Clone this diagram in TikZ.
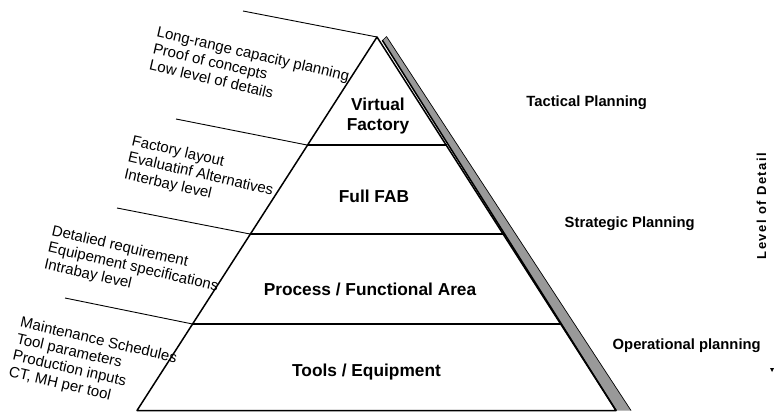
\documentclass[tikz,border=0pt]{standalone}
\usepackage{fontspec}
\setmainfont{Liberation Sans}
\begin{document}
\begin{tikzpicture}[x=1pt,y=-1pt,
  edge/.style={line width=1.5pt,line cap=round,line join=round},
  leader/.style={line width=0.9pt},
  layerlbl/.style={font=\fontsize{17.3}{20.6}\selectfont\bfseries,align=center,inner sep=0pt},
  planlbl/.style={font=\fontsize{14.8}{17}\selectfont\bfseries,inner sep=0pt},
  notelbl/.style={font=\fontsize{15}{17}\selectfont,align=left,inner sep=0pt,rotate=-13,anchor=north west}]
\useasboundingbox (0,0) rectangle (774,412);
% key points
\coordinate (apex) at (377,37);
\coordinate (bl) at (137,410.5);
\coordinate (br) at (616,410.5);
\coordinate (l1) at (307,145);
\coordinate (r1) at (446.5,145);
\coordinate (l2) at (250,234);
\coordinate (r2) at (503.5,234);
\coordinate (l3) at (192.5,324);
\coordinate (r3) at (561,324);
% shadow strip
\coordinate (s1) at (382.5,40.5);
\coordinate (s2) at (386.5,36.5);
\coordinate (s3) at (631,410.5);
\coordinate (s4) at (616,410.5);
\fill[black!40] (s1) -- (s2) -- (s3) -- (s4) -- cycle;
\draw[line width=0.7pt] (s2) -- (s3);
\draw[edge] (s1) -- (s4);
\draw[line width=0.7pt] (s1) -- (s2);
% pyramid
\draw[edge] (bl) -- (apex) -- (br) -- cycle;
\draw[line width=1.2pt] (l1) -- (r1);
\draw[line width=1.2pt] (l2) -- (r2);
\draw[line width=1.2pt] (l3) -- (r3);
% leaders
\coordinate (e1) at (243,11);
\coordinate (e2) at (176,119);
\coordinate (e3) at (117,208);
\coordinate (e4) at (65,298);
\draw[leader] (e1) -- (apex);
\draw[leader] (e2) -- (l1);
\draw[leader] (e3) -- (l2);
\draw[leader] (e4) -- (l3);
% layer labels
\node[layerlbl] (vf) at (378,116) {Virtual\\Factory};
\node[layerlbl] (ff) at (374,196.5) {Full FAB};
\node[layerlbl] (pf) at (370,289.5) {Process / Functional Area};
\node[layerlbl] (te) at (366.5,372) {Tools / Equipment};
% notes
\node[notelbl] (n1) at (158.5,26) {Long-range capacity planning\\Proof of concepts\\Low level of details};
\node[notelbl] (n2) at (133.5,134.5) {Factory layout\\Evaluatinf Alternatives\\Interbay level};
\node[notelbl] (n3) at (53.5,224.5) {Detalied requirement\\Equipement specifications\\Intrabay level};
\node[notelbl] (n4) at (22,316) {Maintenance Schedules\\Tool parameters\\Production inputs\\CT, MH per tool};
% planning labels
\node[planlbl] (tp) at (586.7,103) {Tactical Planning};
\node[planlbl] (sp) at (629.7,224) {Strategic Planning};
\node[planlbl] (op) at (686.7,345.5) {Operational planning};
\node[inner sep=0pt,rotate=90,font=\fontsize{13}{15}\selectfont\bfseries\addfontfeature{LetterSpace=12}] (lod) at (761.5,206) {Level of Detail};
% cut-off mark
\coordinate (m1) at (770,368);
\coordinate (m2) at (774,368);
\coordinate (m3) at (772,372);
\fill (m1) -- (m2) -- (m3) -- cycle;
\end{tikzpicture}
\end{document}
